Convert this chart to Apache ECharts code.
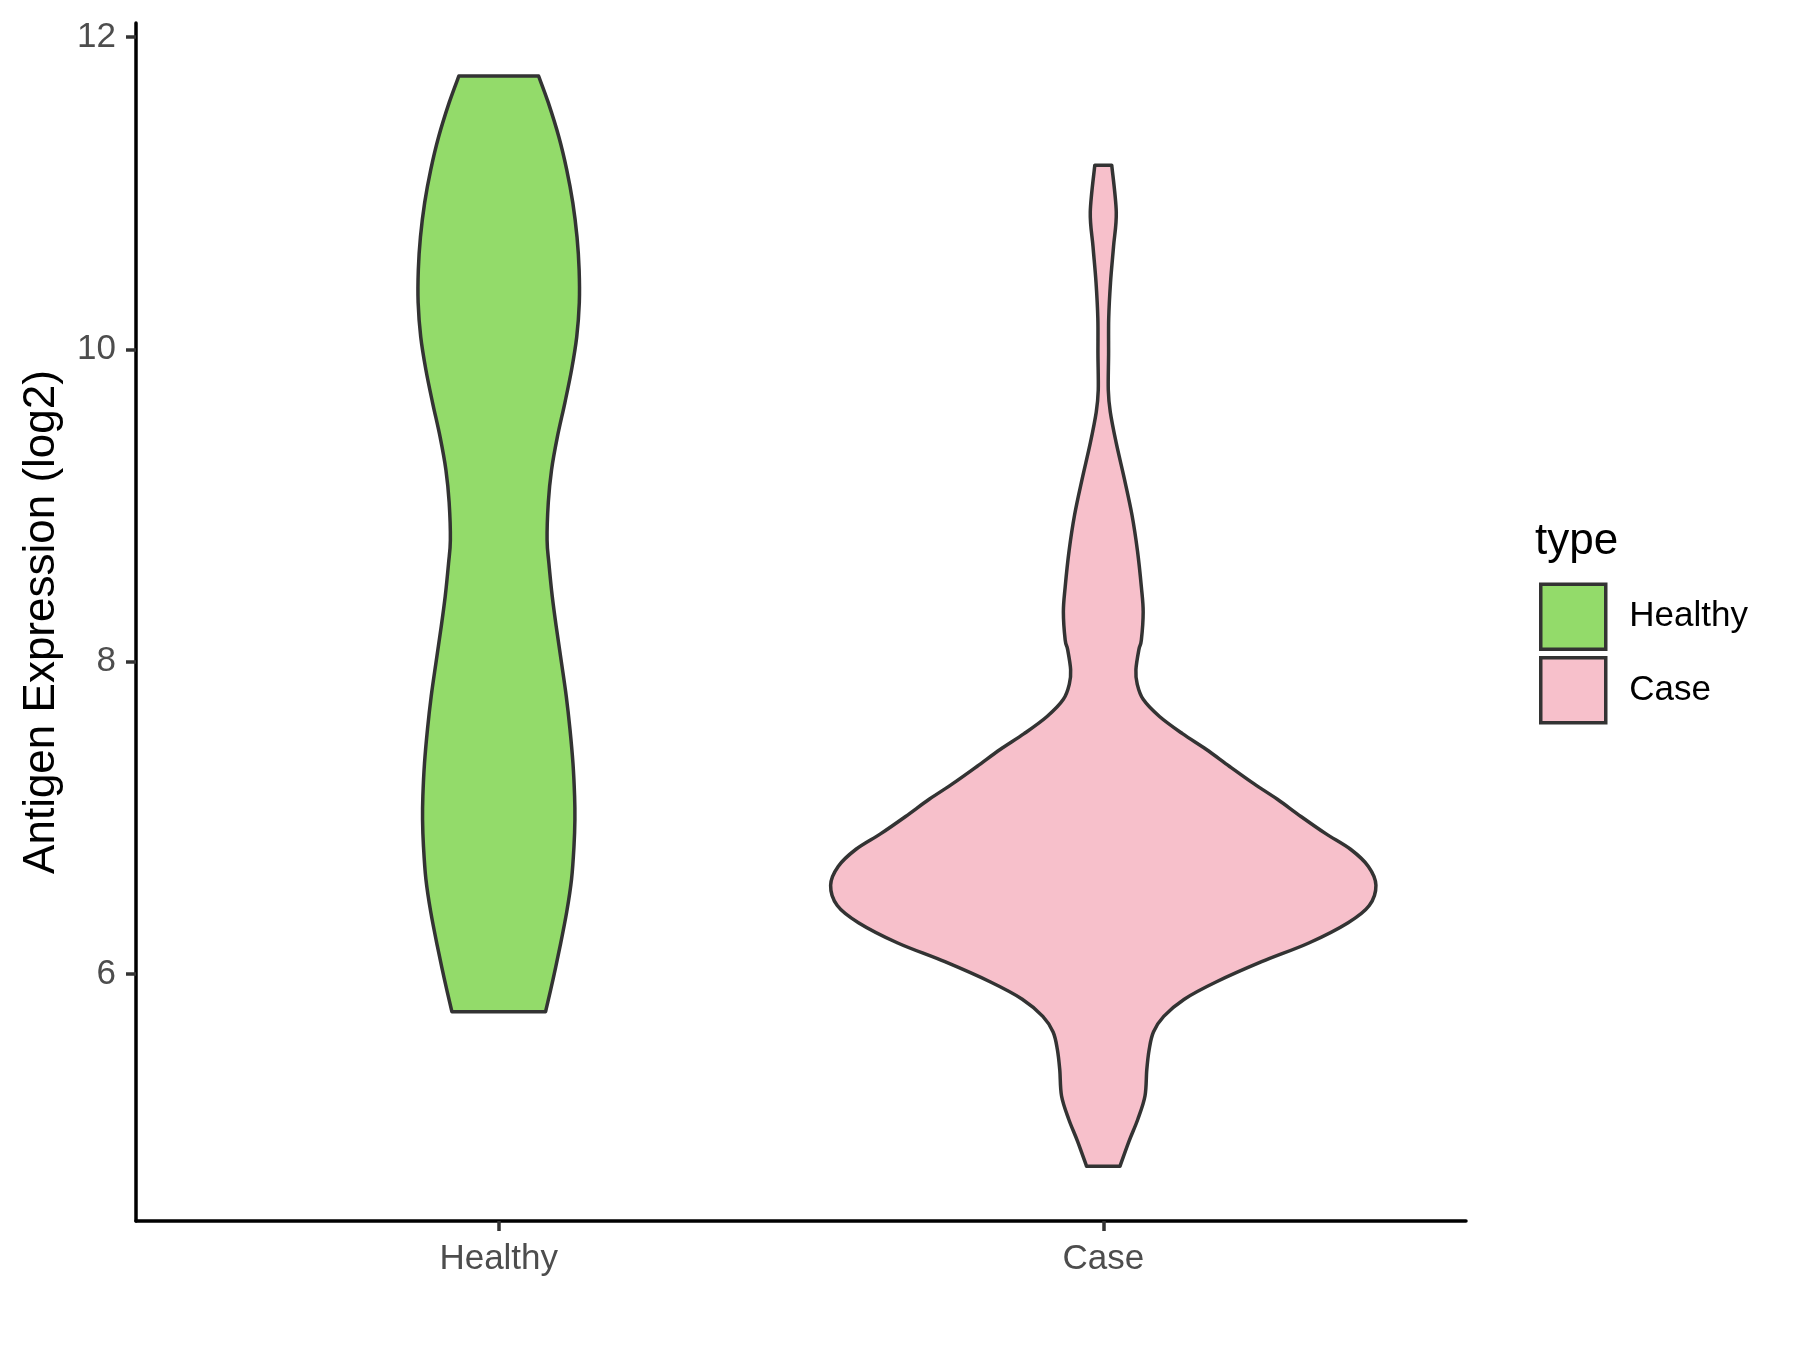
<!DOCTYPE html>
<html>
<head>
<meta charset="utf-8">
<script src="https://cdn.jsdelivr.net/npm/echarts@6/dist/echarts.min.js"></script>
<style>
html,body{margin:0;padding:0;background:#fff;}
#chart{width:1800px;height:1350px;}
</style>
</head>
<body>
<div id="chart"></div>
<script>
// ---- data ----
const categories = ['Healthy', 'Case'];
const yTicks = [6, 8, 10, 12];
const legendTitle = 'type';
const yAxisTitle = 'Antigen Expression (log2)';

// Healthy violin outline: y values (top to bottom) and half-widths (x-axis units)
const healthyY = [11.75, 11.58, 11.36, 11.15, 10.94, 10.72, 10.51, 10.30, 10.08, 9.87, 9.66, 9.44, 9.23, 9.02, 8.78, 8.63, 8.42, 8.21, 7.99, 7.78, 7.57, 7.35, 7.14, 6.99, 6.82, 6.61, 6.40, 6.18, 5.97, 5.76];
const healthyW = [0.066, 0.082, 0.0995, 0.1125, 0.1225, 0.1295, 0.1330, 0.1333, 0.129, 0.1205, 0.1095, 0.097, 0.0874, 0.082, 0.080, 0.083, 0.0885, 0.0957, 0.104, 0.1117, 0.1178, 0.1228, 0.1255, 0.126, 0.1245, 0.1205, 0.1125, 0.1015, 0.090, 0.0775];

// Case violin outline
const caseY = [11.18, 10.88, 10.66, 10.43, 10.20, 9.97, 9.74, 9.60, 9.40, 9.17, 8.94, 8.71, 8.48, 8.32, 8.14, 8.08, 7.95, 7.86, 7.76, 7.65, 7.54, 7.44, 7.33, 7.22, 7.12, 7.01, 6.90, 6.80, 6.69, 6.57, 6.44, 6.33, 6.20, 6.08, 5.95, 5.84, 5.73, 5.63, 5.52, 5.39, 5.22, 5.07, 4.93, 4.77];
const caseW = [0.014, 0.0215, 0.017, 0.012, 0.009, 0.0088, 0.0083, 0.0116, 0.0215, 0.035, 0.0475, 0.0566, 0.063, 0.066, 0.063, 0.059, 0.054, 0.056, 0.066, 0.093, 0.131, 0.170, 0.209, 0.249, 0.288, 0.327, 0.368, 0.409, 0.4385, 0.451, 0.440, 0.405, 0.340, 0.262, 0.1865, 0.134, 0.100, 0.083, 0.076, 0.072, 0.069, 0.057, 0.0425, 0.0276];

const colors = { Healthy: '#93DB6A', Case: '#F7C0CB' };
const outline = '#333333';
const FONT = 'Liberation Sans, Arial, sans-serif';

function crSegments(p) {
  let s = '';
  for (let i = 0; i < p.length - 1; i++) {
    const p0 = p[i - 1] || p[i], p1 = p[i], p2 = p[i + 1], p3 = p[i + 2] || p[i + 1];
    const c1 = [p1[0] + (p2[0] - p0[0]) / 6, p1[1] + (p2[1] - p0[1]) / 6];
    const c2 = [p2[0] - (p3[0] - p1[0]) / 6, p2[1] - (p3[1] - p1[1]) / 6];
    s += ' C' + c1[0] + ' ' + c1[1] + ' ' + c2[0] + ' ' + c2[1] + ' ' + p2[0] + ' ' + p2[1];
  }
  return s;
}

function violinRender(ys, ws, cx, fill) {
  return function (params, api) {
    if (params.dataIndex !== 0) return null;
    const L = ys.map((y, i) => api.coord([cx - ws[i], y]));
    const R = ys.map((y, i) => api.coord([cx + ws[i], y]));
    const n = ys.length;
    let d = 'M' + L[0][0] + ' ' + L[0][1] + ' L' + R[0][0] + ' ' + R[0][1];
    d += crSegments(R);
    d += ' L' + L[n - 1][0] + ' ' + L[n - 1][1];
    d += crSegments(L.slice().reverse());
    d += ' Z';
    return {
      type: 'path',
      shape: { pathData: d },
      style: { fill: fill, stroke: outline, lineWidth: 3.5, lineJoin: 'round' }
    };
  };
}

function mkSeries(name, ys, ws, cx) {
  return {
    type: 'custom',
    name: name,
    coordinateSystem: 'cartesian2d',
    itemStyle: { color: colors[name] },
    encode: { x: 0, y: 1 },
    data: ys.map((y, i) => [cx, y, ws[i]]),
    renderItem: violinRender(ys, ws, cx, colors[name]),
    silent: true,
    clip: false
  };
}

const chart = echarts.init(document.getElementById('chart'), null, { renderer: 'canvas' });
chart.setOption({
  animation: false,
  backgroundColor: '#ffffff',
  grid: { left: 136, right: 334, top: 23, bottom: 129, containLabel: false, outerBoundsMode: 'none' },
  title: {
    text: legendTitle,
    left: 1535,
    top: 520,
    padding: 0,
    textStyle: { fontFamily: FONT, fontSize: 44, fontWeight: 'normal', color: '#000' }
  },
  legend: {
    orient: 'vertical',
    left: 1539,
    top: 582.5,
    padding: 0,
    itemWidth: 65,
    itemHeight: 65,
    itemGap: 5,
    selectedMode: false,
    textStyle: { fontFamily: FONT, fontSize: 35, color: '#000', padding: [0, 0, 0, 18.5] },
    data: categories.map(c => ({
      name: c,
      icon: 'rect',
      itemStyle: { color: colors[c], borderColor: outline, borderWidth: 3.5 }
    }))
  },
  xAxis: {
    type: 'value',
    min: 0.4,
    max: 2.6,
    splitLine: { show: false },
    axisLine: { show: true, onZero: false, lineStyle: { color: '#000', width: 3.5 } },
    axisTick: { show: true, customValues: [1, 2], length: 10, lineStyle: { color: outline, width: 3.5 } },
    axisLabel: {
      customValues: [1, 2],
      formatter: v => categories[Math.round(v) - 1],
      fontFamily: FONT, fontSize: 35, color: '#4D4D4D', margin: 21
    }
  },
  yAxis: {
    type: 'value',
    min: 4.42,
    max: 12.09,
    name: yAxisTitle,
    nameLocation: 'middle',
    nameGap: 72,
    nameTextStyle: { fontFamily: FONT, fontSize: 44, color: '#000' },
    splitLine: { show: false },
    axisLine: { show: true, onZero: false, lineStyle: { color: '#000', width: 3.5 } },
    axisTick: { show: true, customValues: yTicks, length: 10, lineStyle: { color: outline, width: 3.5 } },
    axisLabel: {
      customValues: yTicks,
      fontFamily: FONT, fontSize: 35, color: '#4D4D4D', margin: 20
    }
  },
  series: [
    mkSeries('Healthy', healthyY, healthyW, 1),
    mkSeries('Case', caseY, caseW, 2)
  ]
});
</script>
</body>
</html>
